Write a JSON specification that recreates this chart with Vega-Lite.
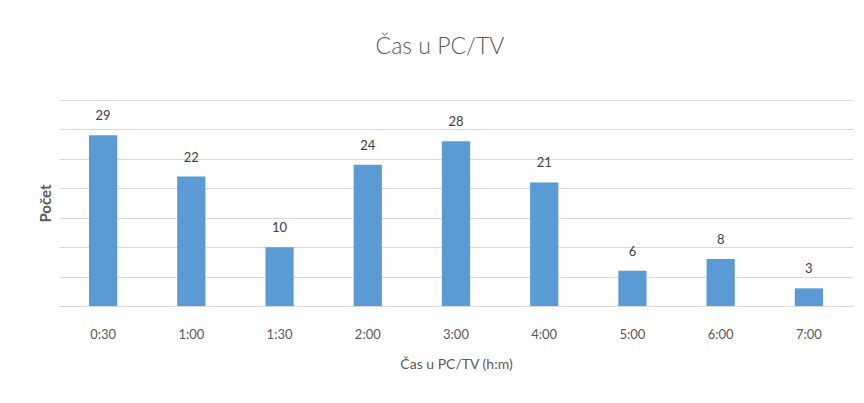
{
  "$schema": "https://vega.github.io/schema/vega-lite/v6.json",
  "autosize": {"type": "none"},
  "width": 794,
  "height": 206,
  "padding": {"left": 59, "top": 100, "right": 11, "bottom": 97},
  "background": "white",
  "config": {
    "view": {"stroke": null},
    "font": "Lato, sans-serif"
  },
  "title": {
    "text": "Čas u PC/TV",
    "fontSize": 23,
    "fontWeight": 300,
    "color": "#595959",
    "font": "Lato, sans-serif",
    "offset": 41,
    "dx": -16,
    "anchor": "middle"
  },
  "data": {
    "values": [
      {"cas": "0:30", "pocet": 29},
      {"cas": "1:00", "pocet": 22},
      {"cas": "1:30", "pocet": 10},
      {"cas": "2:00", "pocet": 24},
      {"cas": "3:00", "pocet": 28},
      {"cas": "4:00", "pocet": 21},
      {"cas": "5:00", "pocet": 6},
      {"cas": "6:00", "pocet": 8},
      {"cas": "7:00", "pocet": 3}
    ]
  },
  "encoding": {
    "x": {
      "field": "cas",
      "type": "ordinal",
      "sort": null,
      "scale": {"paddingInner": 0.68, "paddingOuter": 0.34},
      "axis": {
        "title": "Čas u PC/TV (h:m)",
        "labelAngle": 0,
        "labelFontSize": 13,
        "labelColor": "#595959",
        "labelPadding": 22,
        "ticks": false,
        "domainColor": "#d9d9d9",
        "domainWidth": 1,
        "titleFontSize": 14,
        "titleFontWeight": "normal",
        "titleColor": "#595959",
        "titlePadding": 16
      }
    },
    "y": {
      "field": "pocet",
      "type": "quantitative",
      "scale": {"domain": [0, 35], "nice": false},
      "axis": {
        "title": "Počet",
        "values": [0, 5, 10, 15, 20, 25, 30, 35],
        "labels": false,
        "ticks": false,
        "domain": false,
        "gridColor": "#d9d9d9",
        "gridWidth": 1,
        "titleFontSize": 15,
        "titleFontWeight": "bold",
        "titleColor": "#595959",
        "titlePadding": 6
      }
    }
  },
  "layer": [
    {"mark": {"type": "bar", "color": "#5b9bd5"}},
    {
      "mark": {"type": "text", "baseline": "bottom", "dy": -12, "fontSize": 13, "color": "#404040"},
      "encoding": {"text": {"field": "pocet", "type": "quantitative"}}
    }
  ]
}
